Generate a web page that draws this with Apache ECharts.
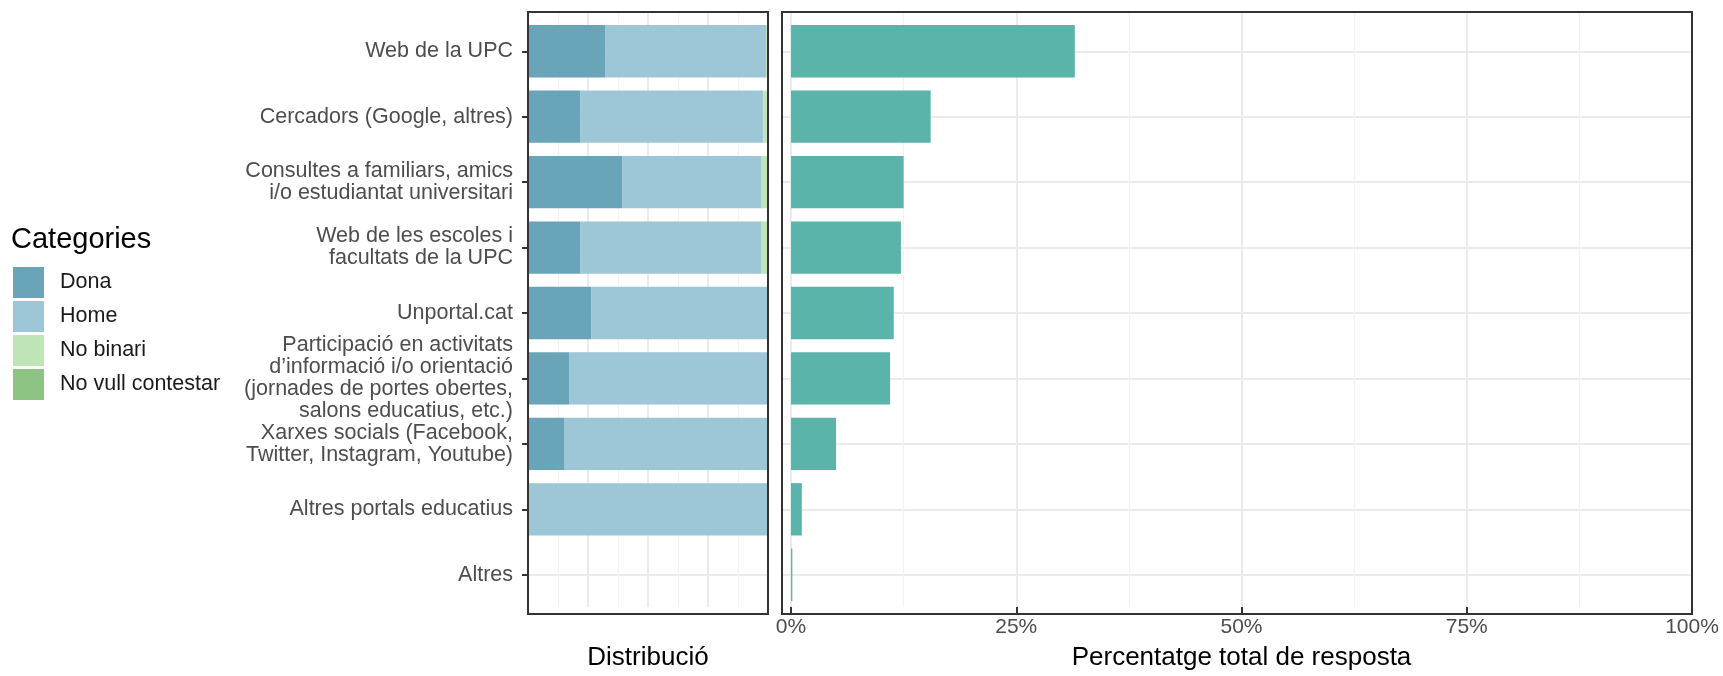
<!DOCTYPE html>
<html>
<head>
<meta charset="utf-8">
<script src="https://cdn.jsdelivr.net/npm/echarts@6/dist/echarts.min.js"></script>
<style>
html,body{margin:0;padding:0;background:#fff;}
#c{width:1723px;height:676px;}
</style>
</head>
<body>
<div id="c"></div>
<script>
const categories = [
  "Web de la UPC",
  "Cercadors (Google, altres)",
  "Consultes a familiars, amics\ni/o estudiantat universitari",
  "Web de les escoles i\nfacultats de la UPC",
  "Unportal.cat",
  "Participació en activitats\nd’informació i/o orientació\n(jornades de portes obertes,\nsalons educatius, etc.)",
  "Xarxes socials (Facebook,\nTwitter, Instagram, Youtube)",
  "Altres portals educatius",
  "Altres"
];
// distribution (% of each row)
const dona      = [32.1, 21.7, 39.2, 21.7, 26.3, 17.1, 15.0, 0, 0];
const home      = [67.1, 76.3, 57.9, 75.4, 73.7, 82.9, 85.0, 100, 0];
const noBinari  = [0.8, 2.0, 2.9, 2.9, 0, 0, 0, 0, 0];
const noVull    = [0, 0, 0, 0, 0, 0, 0, 0, 0];
// total share of responses (%)
const total     = [31.5, 15.5, 12.5, 12.2, 11.4, 11.0, 5.0, 1.2, 0.15];
const pctTicks  = [0, 25, 50, 75, 100];

const FONT = "'Liberation Sans', Arial, Helvetica, sans-serif";
const GRID_MAJOR = '#ebebeb';
const GRID_MINOR = '#f2f2f2';
const DARK = '#333333';

const chart = echarts.init(document.getElementById('c'), null, {renderer: 'canvas'});

// panel geometry
const topY = 12, panelH = 602;
const unit = panelH / 9.2;
const innerTop = topY + 0.6 * unit;
const innerH = 8 * unit;

const stackSeries = (name, data, color) => ({
  name, type: 'bar', stack: 'dist', data,
  xAxisIndex: 1, yAxisIndex: 1, barWidth: '80%', clip: false,
  itemStyle: {color}, emphasis: {disabled: true}, silent: true
});

const option = {
  animation: false,
  textStyle: {fontFamily: FONT},
  title: {
    text: 'Categories', left: 11, top: 225, padding: 0,
    textStyle: {fontSize: 29, fontWeight: 'normal', color: '#000', fontFamily: FONT}
  },
  legend: {
    data: ['Dona', 'Home', 'No binari', 'No vull contestar'],
    orient: 'vertical', left: 13, top: 267, padding: 0,
    itemWidth: 31, itemHeight: 31, itemGap: 3, icon: 'rect',
    selectedMode: false,
    textStyle: {fontSize: 21.5, color: '#1a1a1a', fontFamily: FONT, padding: [0, 0, 0, 11]}
  },
  grid: [
    {left: 528, top: topY, width: 240, height: panelH},
    {left: 528, top: innerTop, width: 240, height: innerH},
    {left: 791, top: topY, width: 901, height: panelH},
    {left: 782, top: innerTop, width: 910, height: innerH}
  ],
  xAxis: [
    { gridIndex: 0, type: 'value', min: 0, max: 1, interval: 0.25,
      axisLine: {show: false}, axisTick: {show: false}, axisLabel: {show: false},
      splitLine: {show: true, lineStyle: {color: GRID_MAJOR, width: 2}},
      minorTick: {show: false, splitNumber: 2},
      minorSplitLine: {show: true, lineStyle: {color: GRID_MINOR, width: 1.2}},
      name: 'Distribució', nameLocation: 'middle', nameGap: 38,
      nameTextStyle: {fontSize: 26, color: '#000', fontFamily: FONT}
    },
    { gridIndex: 1, type: 'value', min: 0, max: 100, show: false },
    { gridIndex: 2, type: 'value', min: 0, max: 100, interval: 25,
      axisLine: {show: false},
      axisTick: {show: true, length: 6, lineStyle: {color: DARK, width: 2}},
      axisLabel: {show: true, margin: 10, fontSize: 21, color: '#4d4d4d', fontFamily: FONT,
                  formatter: v => v + '%'},
      splitLine: {show: true, lineStyle: {color: GRID_MAJOR, width: 2}},
      minorTick: {show: false, splitNumber: 2},
      minorSplitLine: {show: true, lineStyle: {color: GRID_MINOR, width: 1.2}},
      name: 'Percentatge total de resposta', nameLocation: 'middle', nameGap: 38,
      nameTextStyle: {fontSize: 26, color: '#000', fontFamily: FONT}
    },
    { gridIndex: 3, type: 'value', min: -1, max: 100, show: false }
  ],
  yAxis: [
    { gridIndex: 0, type: 'value', show: false },
    { gridIndex: 1, type: 'category', data: categories, inverse: true, boundaryGap: false,
      axisLine: {show: false},
      axisTick: {show: true, length: 6, lineStyle: {color: DARK, width: 2}},
      axisLabel: {interval: 0, margin: 15, fontSize: 21.5, lineHeight: 22, color: '#4d4d4d',
                  fontFamily: FONT, align: 'right'},
      splitLine: {show: true, lineStyle: {color: GRID_MAJOR, width: 2}}
    },
    { gridIndex: 2, type: 'value', show: false },
    { gridIndex: 3, type: 'category', data: categories, inverse: true, boundaryGap: false,
      axisLine: {show: false}, axisTick: {show: false}, axisLabel: {show: false},
      splitLine: {show: true, lineStyle: {color: GRID_MAJOR, width: 2}}
    }
  ],
  series: [
    stackSeries('Dona', dona, '#6aa4b9'),
    stackSeries('Home', home, '#9dc6d6'),
    stackSeries('No binari', noBinari, '#bfe4b5'),
    stackSeries('No vull contestar', noVull, '#8dc383'),
    { name: 'Total', type: 'bar', data: total, xAxisIndex: 3, yAxisIndex: 3,
      barWidth: '80%', clip: false, itemStyle: {color: '#5bb4aa'},
      emphasis: {disabled: true}, silent: true }
  ],
  graphic: [
    { type: 'rect', z: 100, silent: true, shape: {x: 528, y: topY, width: 240, height: panelH},
      style: {fill: 'none', stroke: DARK, lineWidth: 2} },
    { type: 'rect', z: 100, silent: true, shape: {x: 782, y: topY, width: 910, height: panelH},
      style: {fill: 'none', stroke: DARK, lineWidth: 2} }
  ]
};
chart.setOption(option);
</script>
</body>
</html>
